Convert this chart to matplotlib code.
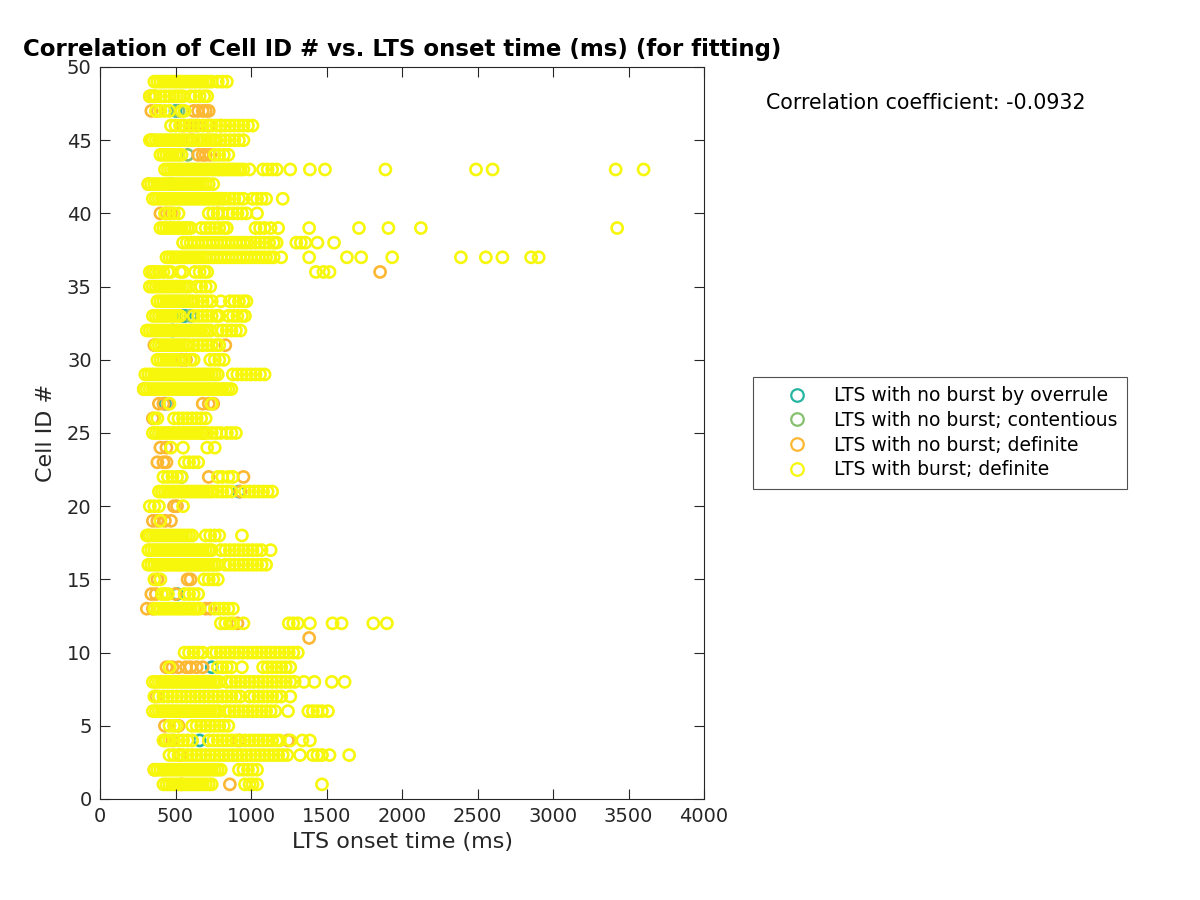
import numpy as np
import matplotlib
matplotlib.use('Agg')
import matplotlib.pyplot as plt
from matplotlib.lines import Line2D

# LTS onset times (ms) with burst, one list per cell ID 1..49
burst_times = [
    [420, 440, 460, 480, 500, 520, 540, 560, 580, 600, 620, 640, 660, 680, 700, 720, 740, 960, 990, 1010, 1040, 1470],
    [360, 380, 400, 420, 440, 460, 480, 500, 520, 540, 560, 580, 600, 620, 640, 660, 680, 700, 720, 740, 760, 780, 800, 920, 950, 980, 1010, 1040],
    [460, 490, 520, 550, 580, 610, 640, 670, 700, 730, 760, 790, 820, 850, 880, 910, 940, 970, 1000, 1030, 1060, 1090, 1120, 1150, 1180, 1210, 1240, 1325, 1410, 1440, 1470, 1520, 1650],
    [420, 440, 460, 490, 520, 550, 580, 610, 720, 750, 780, 810, 840, 870, 900, 930, 960, 990, 1020, 1050, 1080, 1110, 1140, 1170, 1190, 1260, 1340, 1390],
    [460, 490, 510, 610, 640, 670, 700, 730, 760, 790, 820, 850],
    [350, 370, 390, 410, 430, 450, 470, 490, 510, 530, 550, 570, 590, 610, 630, 650, 670, 690, 710, 730, 750, 770, 790, 830, 860, 890, 920, 950, 980, 1010, 1040, 1070, 1100, 1130, 1160, 1245, 1380, 1410, 1440, 1470, 1510],
    [360, 390, 420, 450, 480, 510, 540, 570, 600, 630, 660, 690, 720, 750, 780, 810, 840, 870, 900, 930, 990, 1020, 1050, 1080, 1110, 1140, 1170, 1200, 1260],
    [350, 370, 390, 410, 430, 450, 470, 490, 510, 530, 550, 570, 590, 610, 630, 650, 670, 690, 710, 730, 750, 770, 790, 840, 870, 900, 930, 960, 990, 1020, 1050, 1080, 1110, 1140, 1170, 1200, 1230, 1260, 1290, 1350, 1420, 1535, 1620],
    [460, 780, 810, 840, 870, 940, 1080, 1110, 1140, 1170, 1200, 1230, 1260],
    [560, 590, 620, 650, 680, 740, 770, 800, 830, 860, 890, 920, 950, 980, 1010, 1040, 1070, 1100, 1130, 1160, 1190, 1220, 1250, 1280, 1310],
    [],
    [800, 830, 860, 880, 950, 1250, 1280, 1310, 1390, 1540, 1600, 1810, 1900],
    [360, 380, 400, 420, 440, 460, 480, 500, 520, 540, 560, 580, 600, 620, 640, 660, 760, 790, 820, 850, 880],
    [410, 430, 450, 560, 590, 620, 650],
    [360, 400, 690, 720, 750, 780],
    [320, 340, 360, 380, 400, 420, 440, 460, 480, 500, 520, 540, 560, 580, 600, 620, 640, 660, 680, 700, 720, 740, 760, 780, 830, 860, 890, 920, 950, 980, 1010, 1040, 1070, 1100],
    [320, 340, 360, 380, 400, 420, 440, 460, 480, 500, 520, 540, 560, 580, 600, 620, 640, 660, 680, 700, 720, 740, 800, 830, 860, 890, 920, 950, 980, 1010, 1040, 1070, 1130],
    [310, 330, 350, 370, 390, 410, 430, 450, 470, 490, 510, 530, 550, 570, 590, 610, 700, 730, 760, 790, 940],
    [400],
    [330, 360, 390, 550],
    [390, 410, 430, 450, 470, 490, 510, 530, 550, 570, 590, 610, 630, 650, 670, 690, 710, 730, 750, 780, 810, 840, 870, 960, 990, 1020, 1050, 1080, 1110, 1140],
    [420, 450, 480, 510, 540, 780, 810, 850, 880],
    [560, 590, 620, 650],
    [470, 550, 710, 760],
    [350, 370, 390, 410, 430, 450, 470, 490, 510, 530, 550, 570, 590, 610, 630, 650, 670, 690, 710, 740, 770, 800, 840, 870, 900],
    [360, 380, 490, 520, 550, 580, 610, 640, 670, 700],
    [460, 740],
    [290, 310, 330, 350, 370, 390, 410, 430, 450, 470, 490, 510, 530, 550, 570, 590, 610, 630, 650, 670, 690, 710, 730, 750, 770, 790, 810, 830, 850, 870],
    [300, 320, 340, 360, 380, 400, 420, 440, 460, 480, 500, 520, 540, 560, 580, 600, 620, 640, 660, 680, 700, 720, 740, 760, 780, 880, 910, 940, 970, 1000, 1030, 1060, 1090],
    [380, 400, 420, 440, 460, 480, 500, 520, 560, 600, 620, 730, 760, 790, 820],
    [370, 390, 410, 430, 450, 470, 490, 510, 530, 550, 570, 590, 620, 650, 680, 710, 740, 770, 790],
    [310, 330, 350, 370, 390, 410, 430, 450, 470, 490, 510, 530, 550, 570, 590, 610, 630, 650, 670, 690, 710, 730, 780, 810, 840, 870, 900, 930],
    [350, 370, 390, 410, 430, 450, 470, 490, 510, 530, 620, 650, 680, 710, 740, 770, 790, 850, 880, 910, 940, 960],
    [380, 400, 420, 440, 460, 480, 500, 520, 540, 560, 580, 600, 620, 650, 680, 710, 740, 800, 860, 890, 920, 950, 970],
    [330, 350, 370, 390, 410, 430, 450, 470, 490, 510, 530, 550, 570, 590, 640, 670, 700, 730],
    [330, 350, 370, 390, 420, 450, 470, 530, 550, 630, 660, 690, 710, 1430, 1480, 1520],
    [440, 460, 480, 500, 520, 540, 560, 580, 600, 620, 640, 660, 680, 700, 725, 750, 775, 800, 825, 850, 875, 900, 925, 950, 975, 1000, 1025, 1050, 1075, 1100, 1125, 1150, 1200, 1385, 1635, 1730, 1935, 2390, 2555, 2665, 2855, 2905],
    [550, 575, 600, 625, 650, 675, 700, 725, 750, 775, 800, 825, 850, 875, 900, 925, 950, 975, 1000, 1030, 1060, 1090, 1120, 1150, 1170, 1300, 1330, 1360, 1440, 1550],
    [400, 420, 440, 460, 480, 500, 520, 540, 560, 580, 600, 670, 700, 730, 760, 790, 820, 840, 1030, 1060, 1090, 1130, 1180, 1385, 1715, 1910, 2125, 3425],
    [430, 460, 490, 520, 720, 750, 780, 810, 850, 880, 910, 940, 970, 1040],
    [350, 370, 390, 410, 430, 450, 470, 490, 510, 530, 550, 570, 590, 610, 630, 650, 670, 690, 710, 730, 750, 770, 790, 810, 830, 860, 890, 920, 950, 1010, 1040, 1070, 1100, 1210],
    [320, 340, 360, 380, 400, 420, 440, 460, 480, 500, 520, 540, 560, 580, 600, 620, 640, 660, 680, 700, 720, 750],
    [430, 450, 470, 490, 510, 530, 550, 570, 590, 610, 630, 650, 670, 690, 710, 730, 750, 770, 790, 810, 830, 850, 870, 890, 910, 930, 950, 990, 1080, 1110, 1140, 1170, 1260, 1390, 1490, 1890, 2490, 2600, 3415, 3600],
    [400, 420, 440, 460, 480, 500, 520, 540, 760, 790, 820, 850],
    [330, 350, 370, 390, 410, 430, 450, 470, 490, 510, 530, 550, 570, 590, 620, 650, 670, 690, 710, 730, 750, 770, 800, 830, 860, 890, 920, 950],
    [470, 500, 530, 560, 590, 620, 650, 680, 710, 740, 770, 800, 830, 860, 890, 920, 950, 980, 1010],
    [370, 400, 430, 460, 540, 560],
    [330, 350, 370, 400, 430, 460, 490, 510, 530, 550, 600, 630, 660, 690, 710],
    [360, 380, 400, 420, 440, 460, 480, 500, 520, 540, 560, 580, 600, 620, 640, 660, 680, 700, 720, 740, 780, 810, 840],
]

# no burst; definite
nob_ids = [1, 1, 2, 3, 4, 4, 4, 4, 5, 5, 7, 9, 9, 9, 9, 9, 9, 9, 11, 12, 13, 13, 13, 13,
           14, 14, 14, 15, 15, 15, 18, 19, 19, 19, 19, 20, 20, 21, 22, 22, 23, 23, 23,
           24, 24, 25, 26, 27, 27, 27, 27, 27, 27, 28, 30, 30, 31, 31, 36, 36, 40, 40, 40, 40,
           42, 44, 44, 44, 44, 45, 45, 46, 46, 46, 46, 46, 47, 47, 47, 47, 47, 47, 47, 48, 48]
nob_times = [540, 860, 360, 530, 430, 480, 920, 1245, 430, 520, 370, 440, 480, 520, 570, 600, 640, 680, 1385, 910, 310, 350, 700, 730,
             340, 370, 500, 380, 580, 600, 320, 350, 380, 430, 470, 490, 510, 930, 720, 950, 380, 420, 440,
             400, 440, 680, 350, 390, 420, 450, 680, 720, 750, 290, 540, 570, 360, 830, 350, 1855, 400, 440, 470, 780,
             320, 650, 680, 700, 730, 340, 610, 550, 600, 640, 720, 800, 340, 380, 620, 650, 680, 700, 720, 330, 360]

# no burst; contentious
cont_ids = [47, 44, 42, 22, 33]
cont_times = [520, 580, 470, 540, 600]

# no burst by overrule
over_ids = [47, 33, 33, 32, 27, 21, 14, 9, 4]
over_times = [500, 550, 565, 480, 430, 920, 510, 740, 660]

labels = ['LTS with no burst by overrule', 'LTS with no burst; contentious',
          'LTS with no burst; definite', 'LTS with burst; definite']
colors = ['#25b5a0', '#86c06e', '#fcb733', '#f7f70c']
corr_text = 'Correlation coefficient: -0.0932'

burst_x = []
burst_y = []
for cell, times in enumerate(burst_times, start=1):
    for t in times:
        burst_x.append(t)
        burst_y.append(cell)

fig = plt.figure(figsize=(12, 9), dpi=100)
ax = fig.add_axes([100/1200, 1 - 799/900, 604/1200, 732/900])

series = [(over_times, over_ids), (cont_times, cont_ids), (nob_times, nob_ids), (burst_x, burst_y)]
for (xs, ys), c in zip(series, colors):
    ax.scatter(xs, ys, s=64, facecolors='none', edgecolors=c, linewidths=1.9)

ax.set_xlim(0, 4000)
ax.set_ylim(0, 50)
ax.set_xticks(np.arange(0, 4001, 500))
ax.set_yticks(np.arange(0, 51, 5))
ax.tick_params(direction='in', length=7, width=0.8, colors='#262626', labelsize=14,
               top=True, right=True, pad=6)
for sp in ax.spines.values():
    sp.set_color('#262626')
    sp.set_linewidth(0.8)

ax.set_xlabel('LTS onset time (ms)', fontsize=16, color='#262626', labelpad=4)
ax.set_ylabel('Cell ID #', fontsize=16, color='#262626', labelpad=8)
ax.set_title('Correlation of Cell ID # vs. LTS onset time (ms) (for fitting)',
             fontsize=16.5, fontweight='bold', pad=8)

fig.text(766/1200, 1 - 103/900, corr_text, fontsize=14.8, va='center', ha='left')

handles = [Line2D([], [], linestyle='none', marker='o', markersize=9, markerfacecolor='none',
                  markeredgecolor=c, markeredgewidth=1.6) for c in colors]
leg = fig.legend(handles, labels, loc='upper left', bbox_to_anchor=(753/1200, 1 - 377/900),
                 fontsize=13.5, frameon=True, fancybox=False, edgecolor='#262626',
                 borderaxespad=0, borderpad=0.5, handlelength=3.7, handletextpad=0.1,
                 labelspacing=0.3)
leg.get_frame().set_linewidth(0.8)

fig.savefig('out.png', dpi=100)
